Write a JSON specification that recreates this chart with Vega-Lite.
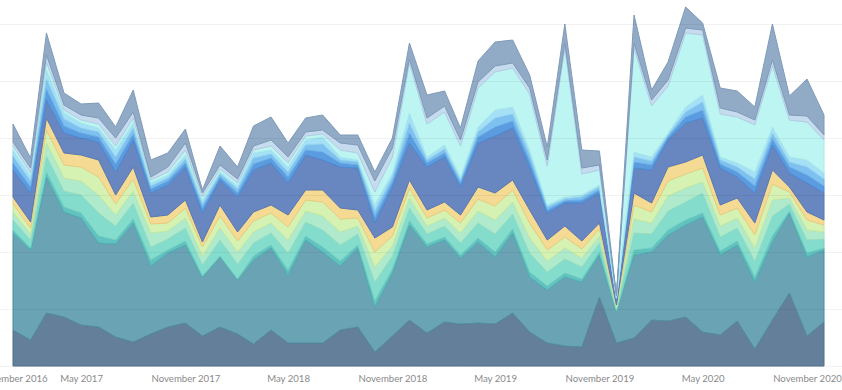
{
  "$schema": "https://vega.github.io/schema/vega-lite/v6.json",
  "width": 842,
  "height": 366,
  "autosize": {"type": "none"},
  "padding": {"left": 0, "right": 0, "top": 0, "bottom": 24},
  "background": "white",
  "config": {
    "view": {"stroke": null},
    "axis": {"labelFont": "Lato", "labelFontSize": 9.6, "labelColor": "#8a8a8a"}
  },
  "data": {
    "values": [
      {"m": "2017-01-01", "s01": 36, "s02": 97, "s03": 3, "s04": 10, "s05": 8, "s06": 8, "s07": 7, "s08": 27, "s09": 7, "s10": 7, "s11": 6, "s12": 4, "s13": 4, "s14": 18},
      {"m": "2017-02-01", "s01": 26, "s02": 90, "s03": 2, "s04": 8, "s05": 6, "s06": 6, "s07": 6, "s08": 29, "s09": 6, "s10": 6, "s11": 5, "s12": 3, "s13": 5, "s14": 10},
      {"m": "2017-03-01", "s01": 53, "s02": 136, "s03": 5, "s04": 16, "s05": 13, "s06": 13, "s07": 12, "s08": 18, "s09": 11, "s10": 10, "s11": 9, "s12": 8, "s13": 7, "s14": 22},
      {"m": "2017-04-01", "s01": 49, "s02": 105, "s03": 5, "s04": 16, "s05": 13, "s06": 13, "s07": 12, "s08": 20, "s09": 7, "s10": 7, "s11": 6, "s12": 3, "s13": 5, "s14": 12},
      {"m": "2017-05-01", "s01": 41, "s02": 107, "s03": 5, "s04": 18, "s05": 14, "s06": 14, "s07": 12, "s08": 17, "s09": 5, "s10": 5, "s11": 5, "s12": 3, "s13": 5, "s14": 11},
      {"m": "2017-06-01", "s01": 39, "s02": 84, "s03": 7, "s04": 23, "s05": 18, "s06": 18, "s07": 17, "s08": 18, "s09": 5, "s10": 5, "s11": 4, "s12": 4, "s13": 6, "s14": 15},
      {"m": "2017-07-01", "s01": 29, "s02": 93, "s03": 4, "s04": 14, "s05": 11, "s06": 11, "s07": 9, "s08": 23, "s09": 8, "s10": 7, "s11": 7, "s12": 4, "s13": 8, "s14": 11},
      {"m": "2017-08-01", "s01": 24, "s02": 119, "s03": 4, "s04": 16, "s05": 12, "s06": 12, "s07": 12, "s08": 27, "s09": 6, "s10": 6, "s11": 5, "s12": 5, "s13": 6, "s14": 22},
      {"m": "2017-09-01", "s01": 32, "s02": 68, "s03": 6, "s04": 13, "s05": 14, "s06": 9, "s07": 7, "s08": 24, "s09": 4, "s10": 3, "s11": 3, "s12": 3, "s13": 3, "s14": 17},
      {"m": "2017-10-01", "s01": 39, "s02": 74, "s03": 3, "s04": 11, "s05": 8, "s06": 8, "s07": 8, "s08": 30, "s09": 4, "s10": 3, "s11": 3, "s12": 3, "s13": 5, "s14": 14},
      {"m": "2017-11-01", "s01": 43, "s02": 78, "s03": 4, "s04": 13, "s05": 10, "s06": 10, "s07": 8, "s08": 33, "s09": 4, "s10": 4, "s11": 4, "s12": 5, "s13": 7, "s14": 14},
      {"m": "2017-12-01", "s01": 30, "s02": 59, "s03": 1, "s04": 11, "s05": 9, "s06": 9, "s07": 5, "s08": 29, "s09": 5, "s10": 4, "s11": 4, "s12": 3, "s13": 4, "s14": 3},
      {"m": "2018-01-01", "s01": 39, "s02": 70, "s03": 1, "s04": 16, "s05": 12, "s06": 12, "s07": 11, "s08": 25, "s09": 3, "s10": 3, "s11": 2, "s12": 3, "s13": 4, "s14": 19},
      {"m": "2018-02-01", "s01": 32, "s02": 54, "s03": 1, "s04": 15, "s05": 12, "s06": 11, "s07": 9, "s08": 35, "s09": 4, "s10": 4, "s11": 3, "s12": 3, "s13": 4, "s14": 12},
      {"m": "2018-03-01", "s01": 22, "s02": 84, "s03": 4, "s04": 13, "s05": 11, "s06": 11, "s07": 9, "s08": 42, "s09": 6, "s10": 6, "s11": 5, "s12": 3, "s13": 4, "s14": 20},
      {"m": "2018-04-01", "s01": 36, "s02": 82, "s03": 3, "s04": 12, "s05": 10, "s06": 10, "s07": 8, "s08": 42, "s09": 5, "s10": 4, "s11": 4, "s12": 4, "s13": 6, "s14": 23},
      {"m": "2018-05-01", "s01": 23, "s02": 68, "s03": 5, "s04": 17, "s05": 13, "s06": 13, "s07": 12, "s08": 32, "s09": 6, "s10": 5, "s11": 5, "s12": 4, "s13": 6, "s14": 14},
      {"m": "2018-06-01", "s01": 23, "s02": 103, "s03": 4, "s04": 14, "s05": 11, "s06": 11, "s07": 10, "s08": 35, "s09": 5, "s10": 5, "s11": 5, "s12": 4, "s13": 4, "s14": 14},
      {"m": "2018-07-01", "s01": 23, "s02": 91, "s03": 5, "s04": 17, "s05": 14, "s06": 14, "s07": 12, "s08": 30, "s09": 8, "s10": 8, "s11": 7, "s12": 3, "s13": 4, "s14": 15},
      {"m": "2018-08-01", "s01": 36, "s02": 64, "s03": 5, "s04": 16, "s05": 13, "s06": 13, "s07": 11, "s08": 41, "s09": 4, "s10": 3, "s11": 3, "s12": 7, "s13": 7, "s14": 8},
      {"m": "2018-09-01", "s01": 39, "s02": 79, "s03": 3, "s04": 11, "s05": 8, "s06": 8, "s07": 8, "s08": 42, "s09": 3, "s10": 3, "s11": 2, "s12": 7, "s13": 8, "s14": 10},
      {"m": "2018-10-01", "s01": 14, "s02": 45, "s03": 6, "s04": 19, "s05": 15, "s06": 15, "s07": 14, "s08": 15, "s09": 6, "s10": 6, "s11": 6, "s12": 13, "s13": 11, "s14": 9},
      {"m": "2018-11-01", "s01": 30, "s02": 63, "s03": 4, "s04": 13, "s05": 10, "s06": 10, "s07": 9, "s08": 40, "s09": 5, "s10": 5, "s11": 4, "s12": 16, "s13": 9, "s14": 10},
      {"m": "2018-12-01", "s01": 46, "s02": 95, "s03": 4, "s04": 13, "s05": 10, "s06": 10, "s07": 8, "s08": 37, "s09": 10, "s10": 10, "s11": 10, "s12": 50, "s13": 4, "s14": 16},
      {"m": "2019-01-01", "s01": 33, "s02": 86, "s03": 3, "s04": 10, "s05": 8, "s06": 8, "s07": 8, "s08": 43, "s09": 4, "s10": 3, "s11": 3, "s12": 33, "s13": 6, "s14": 23},
      {"m": "2019-02-01", "s01": 44, "s02": 82, "s03": 3, "s04": 11, "s05": 8, "s06": 8, "s07": 8, "s08": 45, "s09": 4, "s10": 4, "s11": 4, "s12": 33, "s13": 6, "s14": 15},
      {"m": "2019-03-01", "s01": 42, "s02": 66, "s03": 3, "s04": 12, "s05": 10, "s06": 10, "s07": 8, "s08": 28, "s09": 4, "s10": 3, "s11": 3, "s12": 31, "s13": 6, "s14": 12},
      {"m": "2019-04-01", "s01": 43, "s02": 81, "s03": 4, "s04": 15, "s05": 12, "s06": 12, "s07": 12, "s08": 44, "s09": 6, "s10": 5, "s11": 5, "s12": 39, "s13": 6, "s14": 21},
      {"m": "2019-05-01", "s01": 42, "s02": 67, "s03": 5, "s04": 18, "s05": 14, "s06": 14, "s07": 13, "s08": 57, "s09": 9, "s10": 9, "s11": 8, "s12": 38, "s13": 6, "s14": 24},
      {"m": "2019-06-01", "s01": 53, "s02": 80, "s03": 4, "s04": 15, "s05": 12, "s06": 12, "s07": 10, "s08": 52, "s09": 7, "s10": 7, "s11": 7, "s12": 39, "s13": 5, "s14": 23},
      {"m": "2019-07-01", "s01": 34, "s02": 55, "s03": 5, "s04": 19, "s05": 15, "s06": 15, "s07": 13, "s08": 43, "s09": 6, "s10": 6, "s11": 5, "s12": 56, "s13": 6, "s14": 13},
      {"m": "2019-08-01", "s01": 23, "s02": 53, "s03": 4, "s04": 14, "s05": 11, "s06": 11, "s07": 10, "s08": 27, "s09": 3, "s10": 3, "s11": 2, "s12": 39, "s13": 6, "s14": 13},
      {"m": "2019-09-01", "s01": 20, "s02": 69, "s03": 4, "s04": 14, "s05": 11, "s06": 11, "s07": 11, "s08": 23, "s09": 2, "s10": 2, "s11": 2, "s12": 149, "s13": 5, "s14": 19},
      {"m": "2019-10-01", "s01": 19, "s02": 65, "s03": 3, "s04": 12, "s05": 9, "s06": 9, "s07": 8, "s08": 38, "s09": 3, "s10": 3, "s11": 2, "s12": 21, "s13": 6, "s14": 18},
      {"m": "2019-11-01", "s01": 69, "s02": 42, "s03": 3, "s04": 9, "s05": 7, "s06": 7, "s07": 6, "s08": 30, "s09": 3, "s10": 3, "s11": 2, "s12": 15, "s13": 5, "s14": 14},
      {"m": "2019-12-01", "s01": 23, "s02": 31, "s03": 1, "s04": 2, "s05": 2, "s06": 1, "s07": 1, "s08": 5, "s09": 1, "s10": 1, "s11": 0, "s12": 1, "s13": 1, "s14": 1},
      {"m": "2020-01-01", "s01": 28, "s02": 83, "s03": 5, "s04": 17, "s05": 14, "s06": 14, "s07": 12, "s08": 25, "s09": 6, "s10": 5, "s11": 5, "s12": 104, "s13": 5, "s14": 28},
      {"m": "2020-02-01", "s01": 46, "s02": 68, "s03": 4, "s04": 14, "s05": 11, "s06": 11, "s07": 9, "s08": 33, "s09": 5, "s10": 4, "s11": 4, "s12": 51, "s13": 6, "s14": 10},
      {"m": "2020-03-01", "s01": 45, "s02": 86, "s03": 5, "s04": 19, "s05": 15, "s06": 15, "s07": 14, "s08": 27, "s09": 3, "s10": 2, "s11": 2, "s12": 47, "s13": 6, "s14": 18},
      {"m": "2020-04-01", "s01": 49, "s02": 92, "s03": 5, "s04": 18, "s05": 14, "s06": 14, "s07": 12, "s08": 39, "s09": 6, "s10": 5, "s11": 5, "s12": 74, "s13": 5, "s14": 21},
      {"m": "2020-05-01", "s01": 34, "s02": 115, "s03": 4, "s04": 20, "s05": 11, "s06": 14, "s07": 13, "s08": 37, "s09": 8, "s10": 8, "s11": 7, "s12": 60, "s13": 5, "s14": 7},
      {"m": "2020-06-01", "s01": 31, "s02": 80, "s03": 4, "s04": 14, "s05": 11, "s06": 11, "s07": 10, "s08": 37, "s09": 4, "s10": 4, "s11": 3, "s12": 43, "s13": 6, "s14": 20},
      {"m": "2020-07-01", "s01": 45, "s02": 76, "s03": 4, "s04": 13, "s05": 10, "s06": 10, "s07": 10, "s08": 21, "s09": 5, "s10": 5, "s11": 4, "s12": 46, "s13": 5, "s14": 21},
      {"m": "2020-08-01", "s01": 17, "s02": 67, "s03": 5, "s04": 16, "s05": 13, "s06": 13, "s07": 12, "s08": 30, "s09": 7, "s10": 7, "s11": 7, "s12": 47, "s13": 5, "s14": 13},
      {"m": "2020-09-01", "s01": 46, "s02": 78, "s03": 6, "s04": 20, "s05": 16, "s06": 16, "s07": 14, "s08": 25, "s09": 6, "s10": 6, "s11": 6, "s12": 61, "s13": 6, "s14": 36},
      {"m": "2020-10-01", "s01": 73, "s02": 80, "s03": 2, "s04": 7, "s05": 6, "s06": 6, "s07": 5, "s08": 14, "s09": 6, "s10": 5, "s11": 5, "s12": 37, "s13": 5, "s14": 19},
      {"m": "2020-11-01", "s01": 30, "s02": 79, "s03": 4, "s04": 13, "s05": 10, "s06": 10, "s07": 8, "s08": 29, "s09": 8, "s10": 8, "s11": 7, "s12": 38, "s13": 6, "s14": 37},
      {"m": "2020-12-01", "s01": 44, "s02": 72, "s03": 2, "s04": 9, "s05": 7, "s06": 7, "s07": 5, "s08": 27, "s09": 7, "s10": 7, "s11": 6, "s12": 33, "s13": 5, "s14": 20}
    ]
  },
  "transform": [
    {"fold": ["s01", "s02", "s03", "s04", "s05", "s06", "s07", "s08", "s09", "s10", "s11", "s12", "s13", "s14"], "as": ["series", "value"]}
  ],
  "mark": {"type": "area", "interpolate": "linear", "strokeWidth": 1, "strokeJoin": "round"},
  "encoding": {
    "x": {
      "field": "m",
      "type": "temporal",
      "scale": {
        "type": "utc",
        "domain": [{"year": 2016, "month": 11, "date": 1, "utc": true}, {"year": 2021, "month": 1, "date": 1, "utc": true}],
        "range": [-21.6, 841.6]
      },
      "axis": {
        "values": [
          {"year": 2016, "month": 11, "date": 1, "utc": true},
          {"year": 2017, "month": 5, "date": 1, "utc": true},
          {"year": 2017, "month": 11, "date": 1, "utc": true},
          {"year": 2018, "month": 5, "date": 1, "utc": true},
          {"year": 2018, "month": 11, "date": 1, "utc": true},
          {"year": 2019, "month": 5, "date": 1, "utc": true},
          {"year": 2019, "month": 11, "date": 1, "utc": true},
          {"year": 2020, "month": 5, "date": 1, "utc": true},
          {"year": 2020, "month": 11, "date": 1, "utc": true}
        ],
        "format": "%B %Y",
        "grid": false,
        "domain": false,
        "ticks": false,
        "labelPadding": 7,
        "labelFlush": true,
        "labelOverlap": false,
        "title": null
      }
    },
    "y": {
      "field": "value",
      "type": "quantitative",
      "stack": "zero",
      "scale": {"domain": [0, 366], "nice": false},
      "axis": {
        "values": [0, 57, 114, 171, 228, 285, 342],
        "labels": false,
        "ticks": false,
        "domain": false,
        "title": null,
        "gridColor": "#000000",
        "gridOpacity": 0.05,
        "zindex": 1
      }
    },
    "fill": {
      "field": "series",
      "type": "nominal",
      "scale": {
        "domain": ["s01", "s02", "s03", "s04", "s05", "s06", "s07", "s08", "s09", "s10", "s11", "s12", "s13", "s14"],
        "range": ["#647f99", "#6aa3b3", "#62c2c0", "#84dccd", "#aeeacb", "#d6f2b2", "#f4da92", "#6886bf", "#5b9be0", "#7ec0f0", "#a5e0f6", "#bdf5f2", "#c6dcee", "#91aac5"]
      },
      "legend": null
    },
    "stroke": {
      "field": "series",
      "type": "nominal",
      "scale": {
        "domain": ["s01", "s02", "s03", "s04", "s05", "s06", "s07", "s08", "s09", "s10", "s11", "s12", "s13", "s14"],
        "range": ["#537089", "#4f8ea3", "#4fb3b3", "#72cfc0", "#9ddfbf", "#c6e8a2", "#e9cc7f", "#5a78b2", "#4c8bd2", "#6cb0e6", "#92d3ee", "#a9ebea", "#b3cce5", "#7f9bba"]
      },
      "legend": null
    },
    "order": {"field": "series", "type": "ordinal", "sort": "ascending"}
  }
}
